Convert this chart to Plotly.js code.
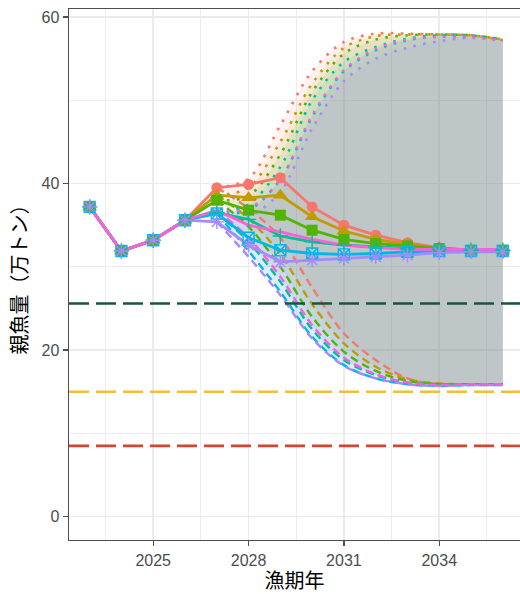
<!DOCTYPE html>
<html>
<head>
<meta charset="utf-8">
<script src="https://cdn.plot.ly/plotly-3.0.1.min.js"></script>
<style>html,body{margin:0;padding:0;background:#fff;}#chart{width:520px;height:594px;}</style>
</head>
<body>
<div id="chart"></div>
<script>
// ---- data ----
const years = [2023,2024,2025,2026,2027,2028,2029,2030,2031,2032,2033,2034,2035,2036];
const projYears = [2027,2028,2029,2030,2031,2032,2033,2034,2035,2036];
const scenarioNames = ["S1","S2","S3","S4","S5","S6","S7"];
const scenarioColors = ["#F8766D","#C49A00","#53B400","#00C094","#00B6EB","#A58AFF","#FB61D7"];
const scenarioSymbols = ["circle","triangle-up","square","cross-thin-open","square-x-open","asterisk-open",null];

const median1 = [37.2,31.9,33.2,35.6,39.5,39.9,40.7,37.2,35.0,33.8,32.9,32.3,32.0,31.9];
const median2 = [37.2,31.9,33.2,35.6,38.6,38.3,38.6,36.0,34.3,33.3,32.7,32.2,32.0,32.0];
const median3 = [37.2,31.9,33.2,35.6,38.0,36.8,36.2,34.4,33.3,32.8,32.5,32.2,32.0,32.0];
const median4 = [37.2,31.9,33.2,35.6,36.5,35.7,33.7,33.0,32.6,32.4,32.2,32.1,32.0,32.0];
const median5 = [37.2,31.9,33.2,35.6,36.4,33.5,32.0,31.6,31.5,31.6,31.8,31.9,31.9,31.9];
const median6 = [37.2,31.9,33.2,35.6,35.4,32.6,30.6,30.8,31.0,31.2,31.4,31.7,31.8,31.8];
const median7 = [37.2,31.9,33.2,35.6,36.8,35.0,34.2,33.3,32.6,32.3,32.1,32.1,32.1,32.1];

const upper1 = [39.5,40.6,47.0,53.5,57.0,58.0,58.0,57.9,57.8,57.2];
const upper2 = [38.6,39.5,45.0,52.0,56.3,57.7,57.9,57.9,57.8,57.3];
const upper3 = [38.0,38.5,43.5,51.0,55.6,57.3,57.8,57.9,57.8,57.3];
const upper4 = [36.5,37.5,42.0,50.0,54.6,56.4,57.4,57.8,57.8,57.3];
const upper5 = [36.4,36.8,40.5,48.0,53.5,56.0,57.2,57.7,57.6,57.2];
const upper6 = [35.4,36.0,39.0,46.6,52.3,55.0,56.3,57.1,57.5,57.1];
const upper7 = [36.8,37.0,40.5,48.2,53.6,56.2,57.3,57.6,57.6,57.2];

const lower1 = [39.5,37.0,33.5,27.5,22.0,18.8,16.6,15.9,15.9,15.9];
const lower2 = [38.6,35.8,31.5,25.5,20.8,18.0,16.5,16.0,15.9,15.9];
const lower3 = [38.0,34.8,30.0,24.0,19.8,17.5,16.3,15.9,15.9,15.9];
const lower4 = [36.5,33.0,28.2,22.5,18.8,17.0,16.1,15.9,15.9,15.9];
const lower5 = [36.4,31.9,27.0,21.6,18.2,16.6,15.9,15.7,15.8,15.8];
const lower6 = [35.4,31.2,26.6,21.4,18.1,16.6,15.9,15.7,15.8,15.8];
const lower7 = [36.8,33.5,28.8,23.0,19.1,17.1,16.1,15.8,15.9,15.9];

const refValues = [25.6, 15.0, 8.5];
const refColors = ["#17553F","#F2BE35","#D8432E"];

const xTicks = [2025,2028,2031,2034];
const xMinor = [2023.5,2026.5,2029.5,2032.5,2035.5];
const yTicks = [0,20,40,60];
const yMinor = [10,30,50];

// ---- build ----
const medians = [median1,median2,median3,median4,median5,median6,median7];
const uppers = [upper1,upper2,upper3,upper4,upper5,upper6,upper7];
const lowers = [lower1,lower2,lower3,lower4,lower5,lower6,lower7];

function rgba(hex,a){const n=parseInt(hex.slice(1),16);return `rgba(${(n>>16)&255},${(n>>8)&255},${n&255},${a})`;}

const traces = [];
const sm = 0.9;
// ribbons
for (let i=0;i<7;i++){
  traces.push({x:projYears,y:lowers[i],type:'scatter',mode:'lines',line:{width:0,shape:'spline',smoothing:sm},hoverinfo:'skip',showlegend:false});
  traces.push({x:projYears,y:uppers[i],type:'scatter',mode:'lines',line:{width:0,shape:'spline',smoothing:sm},fill:'tonexty',fillcolor:rgba(scenarioColors[i],0.1),hoverinfo:'skip',showlegend:false});
}
// bounds
for (let i=0;i<7;i++){
  traces.push({x:projYears,y:uppers[i],type:'scatter',mode:'lines',line:{color:scenarioColors[i],width:2.6,dash:'2.6px,7.4px',shape:'spline',smoothing:sm},showlegend:false});
  traces.push({x:projYears,y:lowers[i],type:'scatter',mode:'lines',line:{color:scenarioColors[i],width:2.4,dash:'8px,5px',shape:'spline',smoothing:sm},showlegend:false});
}
// medians lines
for (let i=0;i<7;i++){
  traces.push({x:years,y:medians[i],type:'scatter',mode:'lines',line:{color:scenarioColors[i],width:2.8},name:scenarioNames[i],showlegend:false});
}
// markers
for (let i=0;i<7;i++){
  if(!scenarioSymbols[i]) continue;
  const open = scenarioSymbols[i].indexOf('open')>=0;
  traces.push({x:years,y:medians[i],type:'scatter',mode:'markers',
    marker:{symbol:scenarioSymbols[i],color:scenarioColors[i],size: i===1?13:(i===5?12:11),line:{color:scenarioColors[i],width:open?1.4:0}},showlegend:false});
}

const shapes = refValues.map((v,i)=>({type:'line',xref:'paper',x0:0,x1:1,yref:'y',y0:v,y1:v,layer:'above',line:{color:refColors[i],width:2.6,dash:'20px,7px'}}));

const layout = {
  width:520,height:594,
  margin:{l:69,r:0,t:9,b:54,pad:0},
  paper_bgcolor:'#ffffff',plot_bgcolor:'#ffffff',
  showlegend:false,
  font:{family:'"Liberation Sans", Arial, "Noto Sans CJK JP", sans-serif',color:'#4D4D4D'},
  xaxis:{range:[2022.35,2036.54],tickvals:xTicks,ticktext:xTicks.map(String),showgrid:true,gridcolor:'#EBEBEB',gridwidth:1.6,
    minor:{tickvals:xMinor,showgrid:true,gridcolor:'#EBEBEB',gridwidth:0.9,ticklen:0},
    zeroline:false,showline:true,mirror:true,linecolor:'#4D4D4D',linewidth:1.4,ticks:'outside',ticklen:5,tickwidth:1.4,tickcolor:'#4D4D4D',
    tickfont:{size:16,color:'#4D4D4D'},
    title:{text:'漁期年',font:{size:20,color:'#000',family:'"Noto Sans CJK JP", sans-serif'},standoff:6},automargin:false},
  yaxis:{range:[-2.8,60.96],tickvals:yTicks,ticktext:yTicks.map(String),showgrid:true,gridcolor:'#EBEBEB',gridwidth:1.6,
    minor:{tickvals:yMinor,showgrid:true,gridcolor:'#EBEBEB',gridwidth:0.9,ticklen:0},
    zeroline:false,showline:true,linecolor:'#4D4D4D',linewidth:1.4,ticks:'outside',ticklen:5,tickwidth:1.4,tickcolor:'#4D4D4D',
    tickfont:{size:16,color:'#4D4D4D'},
    title:{text:'親魚量（万トン）',font:{size:20,color:'#000',family:'"Noto Sans CJK JP", sans-serif'},standoff:8},automargin:false},
  shapes:shapes
};
Plotly.newPlot('chart',traces,layout,{staticPlot:true,displayModeBar:false});
</script>
</body>
</html>
